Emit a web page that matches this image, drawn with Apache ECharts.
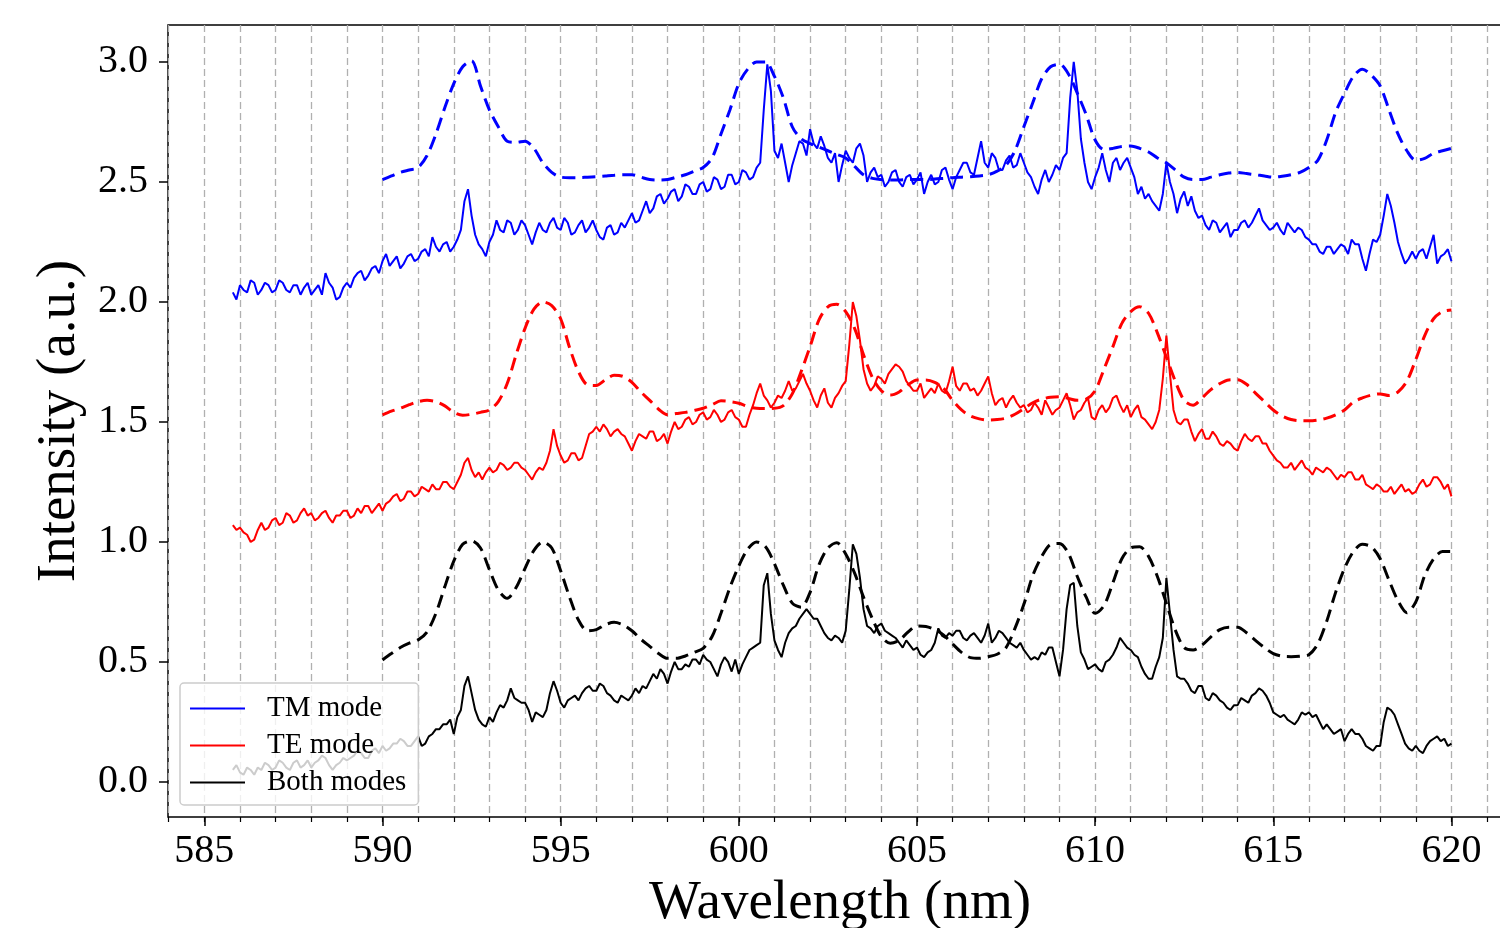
<!DOCTYPE html>
<html>
<head>
<meta charset="utf-8">
<script src="https://cdn.jsdelivr.net/npm/echarts@6/dist/echarts.min.js"></script>
<style>
html, body { margin: 0; padding: 0; background: #fff; }
#chart { width: 1500px; height: 928px; }
</style>
</head>
<body>
<div id="chart"></div>
<script>
// measured spectra, sampled every 0.1 nm starting at 585.8 nm (one row per nm)
const measStart = 585.8;
const measStep = 0.1;
const tmMeasured = [2.04, 2.01,
	2.07, 2.05, 2.04, 2.09, 2.08, 2.03, 2.05, 2.08, 2.07, 2.04,
	2.05, 2.09, 2.08, 2.05, 2.04, 2.07, 2.07, 2.03, 2.06, 2.08,
	2.03, 2.05, 2.07, 2.03, 2.12, 2.08, 2.06, 2.01, 2.02, 2.06,
	2.08, 2.06, 2.10, 2.12, 2.13, 2.09, 2.11, 2.14, 2.15, 2.12,
	2.17, 2.20, 2.15, 2.17, 2.19, 2.14, 2.16, 2.19, 2.20, 2.17,
	2.18, 2.21, 2.22, 2.19, 2.27, 2.23, 2.21, 2.24, 2.25, 2.21,
	2.23, 2.26, 2.30, 2.42, 2.47, 2.36, 2.28, 2.24, 2.22, 2.19,
	2.25, 2.28, 2.34, 2.30, 2.29, 2.34, 2.33, 2.28, 2.30, 2.34,
	2.32, 2.28, 2.24, 2.29, 2.33, 2.30, 2.29, 2.33, 2.35, 2.31,
	2.30, 2.35, 2.33, 2.28, 2.29, 2.32, 2.34, 2.29, 2.31, 2.34,
	2.30, 2.27, 2.26, 2.31, 2.32, 2.28, 2.29, 2.33, 2.31, 2.34,
	2.37, 2.33, 2.34, 2.38, 2.42, 2.37, 2.39, 2.44, 2.45, 2.41,
	2.43, 2.46, 2.47, 2.42, 2.44, 2.49, 2.48, 2.45, 2.45, 2.49,
	2.50, 2.46, 2.47, 2.52, 2.51, 2.47, 2.48, 2.53, 2.53, 2.49,
	2.50, 2.55, 2.54, 2.51, 2.52, 2.56, 2.58, 2.80, 2.99, 2.88,
	2.63, 2.60, 2.66, 2.58, 2.50, 2.57, 2.62, 2.67, 2.66, 2.61,
	2.72, 2.66, 2.64, 2.69, 2.65, 2.60, 2.58, 2.62, 2.50, 2.57,
	2.63, 2.60, 2.58, 2.64, 2.66, 2.61, 2.50, 2.54, 2.56, 2.52,
	2.53, 2.48, 2.50, 2.54, 2.55, 2.50, 2.48, 2.52, 2.53, 2.49,
	2.51, 2.54, 2.45, 2.50, 2.53, 2.49, 2.50, 2.55, 2.56, 2.51,
	2.47, 2.52, 2.55, 2.58, 2.58, 2.54, 2.53, 2.60, 2.67, 2.58,
	2.56, 2.62, 2.60, 2.55, 2.55, 2.59, 2.61, 2.56, 2.57, 2.62,
	2.58, 2.54, 2.52, 2.48, 2.45, 2.51, 2.55, 2.50, 2.53, 2.57,
	2.55, 2.60, 2.62, 2.85, 3.00, 2.88, 2.68, 2.58, 2.50, 2.47,
	2.52, 2.56, 2.62, 2.55, 2.50, 2.58, 2.60, 2.55, 2.58, 2.60,
	2.56, 2.52, 2.45, 2.48, 2.43, 2.45, 2.42, 2.40, 2.38, 2.45,
	2.58, 2.50, 2.45, 2.37, 2.43, 2.46, 2.40, 2.44, 2.38, 2.35,
	2.36, 2.32, 2.30, 2.34, 2.33, 2.29, 2.31, 2.33, 2.27, 2.30,
	2.30, 2.33, 2.34, 2.31, 2.33, 2.36, 2.39, 2.34, 2.32, 2.30,
	2.31, 2.33, 2.30, 2.28, 2.33, 2.31, 2.29, 2.31, 2.30, 2.27,
	2.26, 2.24, 2.24, 2.21, 2.20, 2.23, 2.23, 2.20, 2.22, 2.24,
	2.23, 2.20, 2.26, 2.24, 2.24, 2.18, 2.13, 2.20, 2.26, 2.25,
	2.28, 2.36, 2.45, 2.40, 2.33, 2.25, 2.20, 2.16, 2.18, 2.21,
	2.18, 2.21, 2.22, 2.18, 2.23, 2.28, 2.16, 2.19, 2.20, 2.22,
	2.17];
const teMeasured = [1.07, 1.05,
	1.06, 1.04, 1.03, 1.00, 1.01, 1.05, 1.08, 1.05, 1.06, 1.09,
	1.10, 1.07, 1.08, 1.12, 1.11, 1.08, 1.09, 1.12, 1.14, 1.11,
	1.12, 1.09, 1.10, 1.12, 1.13, 1.10, 1.08, 1.11, 1.11, 1.13,
	1.13, 1.10, 1.11, 1.14, 1.12, 1.15, 1.15, 1.12, 1.14, 1.16,
	1.13, 1.16, 1.17, 1.19, 1.20, 1.17, 1.18, 1.21, 1.21, 1.19,
	1.20, 1.23, 1.22, 1.21, 1.24, 1.22, 1.22, 1.25, 1.25, 1.23,
	1.22, 1.25, 1.28, 1.33, 1.35, 1.30, 1.27, 1.29, 1.26, 1.29,
	1.31, 1.29, 1.30, 1.33, 1.32, 1.30, 1.31, 1.33, 1.33, 1.31,
	1.30, 1.28, 1.26, 1.29, 1.31, 1.30, 1.33, 1.38, 1.47, 1.40,
	1.36, 1.33, 1.34, 1.37, 1.37, 1.34, 1.35, 1.40, 1.45, 1.46,
	1.48, 1.46, 1.49, 1.47, 1.44, 1.46, 1.47, 1.45, 1.44, 1.41,
	1.38, 1.42, 1.45, 1.44, 1.43, 1.46, 1.46, 1.42, 1.43, 1.45,
	1.41, 1.46, 1.50, 1.47, 1.48, 1.51, 1.52, 1.49, 1.50, 1.53,
	1.54, 1.51, 1.52, 1.55, 1.53, 1.50, 1.51, 1.54, 1.55, 1.52,
	1.51, 1.48, 1.48, 1.53, 1.57, 1.62, 1.66, 1.61, 1.59, 1.56,
	1.58, 1.61, 1.60, 1.63, 1.67, 1.63, 1.64, 1.67, 1.70, 1.66,
	1.63, 1.59, 1.56, 1.61, 1.64, 1.58, 1.56, 1.60, 1.62, 1.65,
	1.67, 1.82, 2.00, 1.94, 1.84, 1.72, 1.66, 1.63, 1.65, 1.69,
	1.68, 1.66, 1.70, 1.72, 1.74, 1.73, 1.71, 1.67, 1.65, 1.63,
	1.63, 1.66, 1.60, 1.62, 1.64, 1.62, 1.66, 1.63, 1.62, 1.67,
	1.73, 1.65, 1.63, 1.66, 1.66, 1.63, 1.64, 1.61, 1.63, 1.66,
	1.69, 1.62, 1.57, 1.59, 1.60, 1.56, 1.59, 1.61, 1.58, 1.56,
	1.57, 1.54, 1.55, 1.58, 1.56, 1.53, 1.59, 1.56, 1.53, 1.55,
	1.56, 1.59, 1.62, 1.57, 1.51, 1.54, 1.55, 1.58, 1.60, 1.52,
	1.51, 1.55, 1.57, 1.54, 1.56, 1.60, 1.61, 1.57, 1.54, 1.57,
	1.52, 1.55, 1.57, 1.52, 1.51, 1.49, 1.47, 1.50, 1.55, 1.68,
	1.86, 1.70, 1.55, 1.50, 1.49, 1.51, 1.51, 1.46, 1.42, 1.45,
	1.47, 1.43, 1.43, 1.46, 1.44, 1.41, 1.40, 1.42, 1.41, 1.39,
	1.38, 1.42, 1.45, 1.43, 1.42, 1.44, 1.44, 1.41, 1.41, 1.38,
	1.36, 1.34, 1.33, 1.31, 1.31, 1.33, 1.30, 1.32, 1.34, 1.31,
	1.30, 1.28, 1.31, 1.30, 1.29, 1.31, 1.30, 1.28, 1.26, 1.28,
	1.27, 1.29, 1.29, 1.26, 1.26, 1.28, 1.24, 1.23, 1.22, 1.24,
	1.23, 1.21, 1.21, 1.23, 1.20, 1.22, 1.24, 1.21, 1.22, 1.20,
	1.21, 1.24, 1.26, 1.23, 1.24, 1.27, 1.27, 1.25, 1.22, 1.24,
	1.19];
const bothMeasured = [0.05, 0.07,
	0.04, 0.03, 0.06, 0.05, 0.03, 0.06, 0.05, 0.08, 0.07, 0.05,
	0.06, 0.09, 0.08, 0.06, 0.05, 0.08, 0.09, 0.06, 0.07, 0.09,
	0.06, 0.08, 0.09, 0.11, 0.10, 0.07, 0.05, 0.07, 0.08, 0.10,
	0.09, 0.10, 0.11, 0.13, 0.12, 0.10, 0.10, 0.13, 0.14, 0.12,
	0.15, 0.13, 0.14, 0.16, 0.16, 0.18, 0.17, 0.15, 0.15, 0.17,
	0.19, 0.15, 0.16, 0.19, 0.20, 0.22, 0.22, 0.24, 0.24, 0.26,
	0.20, 0.27, 0.30, 0.40, 0.44, 0.37, 0.30, 0.26, 0.24, 0.23,
	0.27, 0.25, 0.29, 0.32, 0.31, 0.34, 0.39, 0.35, 0.34, 0.33,
	0.33, 0.30, 0.25, 0.29, 0.28, 0.27, 0.30, 0.37, 0.42, 0.38,
	0.33, 0.31, 0.34, 0.35, 0.36, 0.34, 0.37, 0.39, 0.40, 0.38,
	0.38, 0.41, 0.40, 0.37, 0.36, 0.34, 0.33, 0.36, 0.35, 0.34,
	0.36, 0.39, 0.37, 0.40, 0.39, 0.42, 0.45, 0.43, 0.47, 0.45,
	0.41, 0.46, 0.50, 0.47, 0.47, 0.49, 0.48, 0.51, 0.51, 0.49,
	0.53, 0.51, 0.50, 0.47, 0.44, 0.49, 0.52, 0.50, 0.46, 0.51,
	0.45, 0.49, 0.52, 0.55, 0.56, 0.57, 0.58, 0.82, 0.87, 0.70,
	0.59, 0.55, 0.52, 0.58, 0.62, 0.64, 0.65, 0.68, 0.70, 0.72,
	0.70, 0.68, 0.68, 0.65, 0.62, 0.60, 0.59, 0.61, 0.60, 0.58,
	0.63, 0.80, 0.99, 0.95, 0.85, 0.72, 0.65, 0.64, 0.62, 0.65,
	0.66, 0.63, 0.62, 0.61, 0.60, 0.58, 0.56, 0.59, 0.57, 0.55,
	0.56, 0.53, 0.52, 0.54, 0.55, 0.58, 0.64, 0.61, 0.60, 0.62,
	0.61, 0.63, 0.63, 0.60, 0.59, 0.61, 0.62, 0.60, 0.58, 0.61,
	0.66, 0.58, 0.60, 0.63, 0.62, 0.60, 0.58, 0.57, 0.56, 0.58,
	0.55, 0.53, 0.51, 0.52, 0.51, 0.54, 0.53, 0.56, 0.56, 0.50,
	0.44, 0.55, 0.72, 0.82, 0.83, 0.65, 0.54, 0.51, 0.47, 0.48,
	0.49, 0.47, 0.46, 0.50, 0.51, 0.53, 0.56, 0.60, 0.58, 0.56,
	0.55, 0.53, 0.52, 0.48, 0.45, 0.43, 0.43, 0.48, 0.52, 0.60,
	0.85, 0.70, 0.55, 0.44, 0.43, 0.43, 0.41, 0.38, 0.37, 0.40,
	0.40, 0.35, 0.34, 0.37, 0.36, 0.34, 0.33, 0.31, 0.30, 0.32,
	0.32, 0.35, 0.34, 0.33, 0.36, 0.37, 0.39, 0.38, 0.36, 0.33,
	0.29, 0.28, 0.27, 0.28, 0.26, 0.25, 0.24, 0.26, 0.29, 0.28,
	0.29, 0.27, 0.28, 0.25, 0.22, 0.24, 0.22, 0.20, 0.21, 0.22,
	0.17, 0.20, 0.22, 0.20, 0.20, 0.18, 0.15, 0.14, 0.13, 0.15,
	0.15, 0.25, 0.31, 0.30, 0.28, 0.24, 0.20, 0.16, 0.14, 0.13,
	0.15, 0.13, 0.12, 0.15, 0.17, 0.18, 0.19, 0.17, 0.18, 0.15,
	0.16];

// simulated spectra (dashed), every 0.25 nm from 590 to 620 nm (one row per 2.5 nm)
const simStart = 590;
const simStep = 0.25;
const tmSim = [
	2.51, 2.525, 2.54, 2.55, 2.56, 2.61, 2.70, 2.81, 2.91, 2.98,
	3.005, 2.90, 2.80, 2.73, 2.67, 2.665, 2.67, 2.64, 2.58, 2.54,
	2.52, 2.518, 2.518, 2.52, 2.522, 2.525, 2.528, 2.53, 2.53, 2.52,
	2.51, 2.508, 2.51, 2.52, 2.53, 2.545, 2.56, 2.60, 2.70, 2.80,
	2.91, 2.97, 3.00, 3.00, 2.94, 2.85, 2.73, 2.68, 2.66, 2.645,
	2.63, 2.615, 2.60, 2.565, 2.53, 2.515, 2.51, 2.508, 2.508, 2.51,
	2.51, 2.51, 2.512, 2.515, 2.518, 2.52, 2.522, 2.525, 2.53, 2.545,
	2.57, 2.63, 2.73, 2.83, 2.93, 2.98, 2.99, 2.95, 2.87, 2.78,
	2.675, 2.635, 2.64, 2.648, 2.65, 2.64, 2.625, 2.60, 2.58, 2.55,
	2.52, 2.51, 2.51, 2.52, 2.53, 2.537, 2.54, 2.535, 2.53, 2.525,
	2.52, 2.524, 2.53, 2.54, 2.56, 2.59, 2.675, 2.79, 2.87, 2.94,
	2.97, 2.945, 2.90, 2.80, 2.70, 2.63, 2.59, 2.598, 2.62, 2.63,
	2.64];
const teSim = [
	1.53, 1.545, 1.557, 1.572, 1.585, 1.59, 1.585, 1.567, 1.54, 1.528,
	1.532, 1.54, 1.55, 1.585, 1.66, 1.78, 1.89, 1.97, 2.00, 1.985,
	1.93, 1.81, 1.71, 1.655, 1.652, 1.675, 1.695, 1.69, 1.665, 1.625,
	1.59, 1.553, 1.53, 1.535, 1.54, 1.548, 1.557, 1.572, 1.588, 1.585,
	1.578, 1.565, 1.557, 1.556, 1.557, 1.568, 1.617, 1.71, 1.814, 1.925,
	1.98, 1.99, 1.96, 1.89, 1.78, 1.685, 1.63, 1.612, 1.625, 1.655,
	1.675, 1.675, 1.665, 1.64, 1.59, 1.55, 1.525, 1.513, 1.508, 1.51,
	1.516, 1.532, 1.555, 1.58, 1.595, 1.603, 1.605, 1.598, 1.59, 1.595,
	1.63, 1.72, 1.814, 1.911, 1.96, 1.98, 1.953, 1.87, 1.77, 1.67,
	1.59, 1.57, 1.60, 1.635, 1.66, 1.675, 1.676, 1.657, 1.62, 1.585,
	1.55, 1.525, 1.51, 1.505, 1.505, 1.508, 1.516, 1.53, 1.55, 1.583,
	1.60, 1.612, 1.617, 1.61, 1.625, 1.67, 1.76, 1.86, 1.93, 1.96,
	1.967];
const bothSim = [
	0.508, 0.535, 0.56, 0.578, 0.592, 0.625, 0.703, 0.814, 0.92, 0.99,
	1.005, 0.975, 0.885, 0.80, 0.765, 0.81, 0.89, 0.965, 1.00, 0.975,
	0.88, 0.77, 0.675, 0.63, 0.635, 0.655, 0.665, 0.655, 0.63, 0.595,
	0.565, 0.535, 0.515, 0.515, 0.525, 0.54, 0.557, 0.606, 0.703, 0.81,
	0.90, 0.97, 1.00, 0.98, 0.91, 0.82, 0.745, 0.728, 0.79, 0.905,
	0.975, 0.997, 0.95, 0.87, 0.77, 0.68, 0.605, 0.578, 0.59, 0.625,
	0.65, 0.648, 0.635, 0.612, 0.575, 0.54, 0.518, 0.515, 0.522, 0.532,
	0.56, 0.64, 0.74, 0.86, 0.939, 0.99, 0.994, 0.953, 0.856, 0.77,
	0.703, 0.735, 0.83, 0.93, 0.975, 0.98, 0.94, 0.855, 0.744, 0.633,
	0.56, 0.55, 0.57, 0.605, 0.635, 0.645, 0.645, 0.622, 0.59, 0.56,
	0.535, 0.524, 0.522, 0.524, 0.53, 0.575, 0.67, 0.79, 0.89, 0.96,
	0.99, 0.98, 0.93, 0.84, 0.755, 0.705, 0.75, 0.86, 0.93, 0.96,
	0.96];

const xMajorTicks = [585, 590, 595, 600, 605, 610, 615, 620];
const xMinorTicks = [584, 585, 586, 587, 588, 589, 590, 591, 592, 593, 594, 595, 596, 597, 598, 599, 600, 601, 602,
	603, 604, 605, 606, 607, 608, 609, 610, 611, 612, 613, 614, 615, 616, 617, 618, 619, 620, 621];
const yTicks = [0, 0.5, 1.0, 1.5, 2.0, 2.5, 3.0];
const legendNames = ['TM mode', 'TE mode', 'Both modes'];

const FONT = 'Liberation Serif';

function pairs(start, step, ys) {
	return ys.map((y, i) => [+(start + step * i).toFixed(2), y]);
}

function measured(name, color, ys) {
	return {
		name: name,
		type: 'line',
		data: pairs(measStart, measStep, ys),
		symbol: 'none',
		lineStyle: { color: color, width: 2 },
		itemStyle: { color: color },
		z: 2
	};
}

function simulated(name, color, ys) {
	return {
		name: name,
		type: 'line',
		data: pairs(simStart, simStep, ys),
		symbol: 'none',
		smooth: 0.3,
		lineStyle: { color: color, width: 3, type: [13, 7] },
		itemStyle: { color: color },
		z: 2
	};
}

const chart = echarts.init(document.getElementById('chart'));

const option = {
	animation: false,
	backgroundColor: '#fff',
	grid: {
		left: 168,
		right: -12,
		top: 25,
		bottom: 111,
		outerBoundsMode: 'none',
		containLabel: false,
		show: true,
		borderColor: '#000',
		borderWidth: 1.5,
		backgroundColor: 'transparent'
	},
	legend: {
		data: legendNames,
		orient: 'vertical',
		left: 180,
		top: 683,
		padding: [11, 12, 8, 10],
		itemWidth: 55,
		itemHeight: 14,
		itemGap: 8,
		icon: 'path://M0,6 L55,6 L55,8 L0,8 Z',
		backgroundColor: 'rgba(255,255,255,0.8)',
		borderColor: '#cccccc',
		borderWidth: 1.5,
		borderRadius: 4,
		textStyle: { fontFamily: FONT, fontSize: 29, color: '#000', padding: [0, 0, 0, 17] },
		selectedMode: false
	},
	xAxis: [{
		type: 'value',
		min: 583.98,
		max: 621.7,
		position: 'bottom',
		name: 'Wavelength (nm)',
		nameLocation: 'middle',
		nameGap: 55,
		nameTextStyle: { fontFamily: FONT, fontSize: 55, color: '#000' },
		axisLine: { show: false, onZero: false },
		axisTick: { show: true, length: 9, inside: false, customValues: xMajorTicks, lineStyle: { color: '#000', width: 1.5 } },
		axisLabel: { show: true, customValues: xMajorTicks, margin: 14, fontFamily: FONT, fontSize: 40, color: '#000',
			formatter: v => String(v) },
		splitLine: { show: false }
	}, {
		type: 'value',
		min: 583.98,
		max: 621.7,
		position: 'bottom',
		axisLine: { show: false, onZero: false },
		axisTick: { show: true, length: 5, customValues: xMinorTicks, lineStyle: { color: '#000', width: 1.2 } },
		axisLabel: { show: false },
		splitLine: { show: true, lineStyle: { color: '#b0b0b0', width: 1.3, type: [7, 4] } }
	}],
	yAxis: {
		type: 'value',
		min: -0.146,
		max: 3.154,
		name: 'Intensity (a.u.)',
		nameLocation: 'middle',
		nameGap: 80,
		nameTextStyle: { fontFamily: FONT, fontSize: 55, color: '#000' },
		axisLine: { show: false, onZero: false },
		axisTick: { show: true, length: 9, customValues: yTicks, lineStyle: { color: '#000', width: 1.5 } },
		axisLabel: { show: true, customValues: yTicks, margin: 20, fontFamily: FONT, fontSize: 40, color: '#000',
			formatter: v => v.toFixed(1) },
		splitLine: { show: false }
	},
	series: [
		measured('TM mode', '#0000ff', tmMeasured),
		simulated('TM sim', '#0000ff', tmSim),
		measured('TE mode', '#ff0000', teMeasured),
		simulated('TE sim', '#ff0000', teSim),
		measured('Both modes', '#000000', bothMeasured),
		simulated('Both sim', '#000000', bothSim)
	]
};

chart.setOption(option);
</script>
</body>
</html>
